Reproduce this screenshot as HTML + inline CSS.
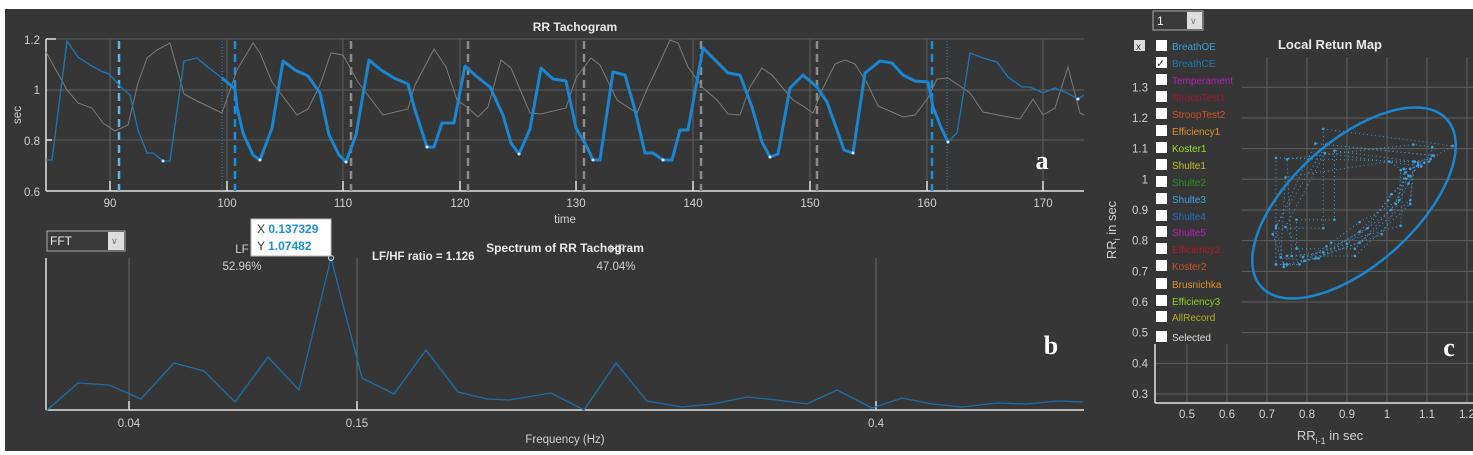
<!DOCTYPE html>
<html><head><meta charset="utf-8"><style>
html,body{margin:0;padding:0;background:#fff;}
svg{display:block;font-family:"Liberation Sans",Arial,sans-serif;}
</style></head><body>
<svg id="s" width="1473" height="455" viewBox="0 0 1473 455" xmlns="http://www.w3.org/2000/svg">
<rect x="5" y="9" width="1468" height="442" fill="#363636"/>
<!-- ===== Tachogram ===== -->
<g stroke="#5e5e5e" stroke-width="1">
<line x1="46" y1="39" x2="1084" y2="39"/><line x1="46" y1="90" x2="1084" y2="90"/><line x1="46" y1="140" x2="1084" y2="140"/>
<line x1="110" y1="39" x2="110" y2="191"/><line x1="227" y1="39" x2="227" y2="191"/><line x1="343" y1="39" x2="343" y2="191"/>
<line x1="460" y1="39" x2="460" y2="191"/><line x1="576" y1="39" x2="576" y2="191"/><line x1="693" y1="39" x2="693" y2="191"/>
<line x1="810" y1="39" x2="810" y2="191"/><line x1="927" y1="39" x2="927" y2="191"/><line x1="1043" y1="39" x2="1043" y2="191"/>
</g>
<g stroke="#e0e0e0" stroke-width="1.5">
<line x1="46" y1="191" x2="1084" y2="191"/><line x1="46" y1="39" x2="46" y2="191"/>
<line x1="46" y1="39" x2="56" y2="39"/><line x1="46" y1="140" x2="52" y2="140"/>
<line x1="110" y1="181" x2="110" y2="191"/><line x1="227" y1="181" x2="227" y2="191"/><line x1="343" y1="181" x2="343" y2="191"/>
<line x1="460" y1="181" x2="460" y2="191"/><line x1="576" y1="181" x2="576" y2="191"/><line x1="693" y1="181" x2="693" y2="191"/>
<line x1="810" y1="181" x2="810" y2="191"/><line x1="927" y1="181" x2="927" y2="191"/><line x1="1043" y1="181" x2="1043" y2="191"/>
</g>
<g stroke-dasharray="8,5" stroke-width="2.5">
<line x1="119" y1="41" x2="119" y2="191" stroke="#56b8e8"/>
<line x1="235" y1="41" x2="235" y2="191" stroke="#1a8fd8"/>
<line x1="351" y1="41" x2="351" y2="191" stroke="#8a8a8a"/>
<line x1="468" y1="41" x2="468" y2="191" stroke="#8a8a8a"/>
<line x1="584" y1="41" x2="584" y2="191" stroke="#8a8a8a"/>
<line x1="701" y1="41" x2="701" y2="191" stroke="#8a8a8a"/>
<line x1="817" y1="41" x2="817" y2="191" stroke="#8a8a8a"/>
<line x1="932" y1="41" x2="932" y2="191" stroke="#1a8fd8"/>
</g>
<g stroke="#1a8fd8" stroke-dasharray="1,2" stroke-width="1">
<line x1="222" y1="41" x2="222" y2="191"/><line x1="947" y1="41" x2="947" y2="191"/>
</g>
<polyline fill="none" stroke="#7a7a7a" stroke-width="1" points="46,52 67,90 78,103 92,108 103,123 115,131 128,125 138,83 147,58 157,50 170,43 184,94 197,101 222,113 237,70 253,43 260,53 272,82 297,115 308,109 320,85 331,53 343,55 358,82 383,115 408,109 415,85 434,49 446,67 457,100 467,107 478,117 488,107 501,60 511,68 530,113 541,114 566,108 576,78 591,58 600,65 617,100 637,113 648,87 660,62 670,40 678,43 688,67 703,88 717,100 728,114 740,115 750,87 762,68 772,75 782,87 793,100 803,106 813,113 822,90 835,64 845,60 855,64 867,83 878,106 892,112 903,117 915,115 928,98 937,79 948,78 970,93 983,112 998,115 1020,119 1033,99 1043,115 1055,108 1068,67 1080,113 1084,115"/>
<polyline fill="none" stroke="#1c78b8" stroke-width="1.3" points="46,160 52,160 67,41 78,57 90,65 101,71 109,74 121,87 130,95 138,130 147,153 153,153 163,161 170,161 184,61 197,58 209,68 222,78 235,89"/>
<polyline fill="none" stroke="#1c78b8" stroke-width="1.3" points="948,142 957,133 970,53 983,58 997,62 1008,77 1022,87 1030,87 1043,93 1055,88 1067,93 1078,99 1084,95"/>
<polyline id="thick" fill="none" stroke="#1a86d0" stroke-width="3" stroke-linejoin="round" points="222,78 235,89 237,107 243,133 253,155 260,160 272,128 283,61 295,70 308,76 320,93 329,135 339,155 346,162 356,135 369,60 381,70 394,78 408,84 415,110 427,147 434,147 442,123 454,123 465,66 476,76 490,87 503,115 511,143 519,154 530,129 541,68 553,79 566,81 576,128 586,145 593,160 600,160 613,72 625,75 635,110 645,153 653,153 663,160 672,160 680,130 688,130 703,48 717,62 728,73 740,75 752,107 762,142 770,157 778,154 790,88 803,75 817,87 827,102 837,130 844,150 853,153 865,73 880,61 892,63 903,75 915,81 928,82 933,107 940,125 948,142"/>
<g fill="#cfe8ff"><circle cx="163" cy="161" r="1.5"/><circle cx="260" cy="160" r="1.5"/><circle cx="346" cy="162" r="1.5"/><circle cx="427" cy="147" r="1.5"/><circle cx="519" cy="154" r="1.5"/><circle cx="593" cy="160" r="1.5"/><circle cx="663" cy="160" r="1.5"/><circle cx="770" cy="157" r="1.5"/><circle cx="853" cy="153" r="1.5"/><circle cx="948" cy="142" r="1.5"/><circle cx="1078" cy="99" r="1.5"/></g>
<g fill="#d0d0d0" font-size="11.5">
<text x="40" y="44" text-anchor="end">1.2</text><text x="40" y="94" text-anchor="end">1</text><text x="40" y="145" text-anchor="end">0.8</text><text x="40" y="196" text-anchor="end">0.6</text>
<text x="110" y="207" text-anchor="middle">90</text><text x="227" y="207" text-anchor="middle">100</text><text x="343" y="207" text-anchor="middle">110</text><text x="460" y="207" text-anchor="middle">120</text><text x="576" y="207" text-anchor="middle">130</text><text x="693" y="207" text-anchor="middle">140</text><text x="810" y="207" text-anchor="middle">150</text><text x="927" y="207" text-anchor="middle">160</text><text x="1043" y="207" text-anchor="middle">170</text>
<text x="565" y="223" text-anchor="middle">time</text>
<text transform="translate(21,115) rotate(-90)" text-anchor="middle">sec</text>
</g>
<text x="575" y="31" fill="#e8e8e8" font-size="12" font-weight="bold" text-anchor="middle">RR Tachogram</text>
<text x="1042" y="169" fill="#fff" font-size="26" font-weight="bold" font-family="Liberation Serif,serif" text-anchor="middle">a</text>
<!-- ===== Spectrum ===== -->
<g stroke="#6a6a6a" stroke-width="1"><line x1="129" y1="258" x2="129" y2="410"/><line x1="357" y1="258" x2="357" y2="410"/><line x1="876" y1="258" x2="876" y2="410"/></g>
<g stroke="#e0e0e0" stroke-width="1.5"><line x1="46" y1="410" x2="1084" y2="410"/><line x1="46" y1="258" x2="46" y2="410"/>
<line x1="129" y1="401" x2="129" y2="410"/><line x1="357" y1="401" x2="357" y2="410"/><line x1="876" y1="401" x2="876" y2="410"/></g>
<polyline fill="none" stroke="#1c6ea8" stroke-width="1.3" points="46,411 78,383 109,385 141,399 174,363 204,371 235,402 268,357 299,390 331,258 362,378 394,394 426,350 458,392 487,399 509,400 551,393 584,410 616,363 647,401 682,407 713,404 747,397 777,400 807,404 837,390 872,408 902,398 932,404 962,407 997,403 1027,404 1058,401 1083,402"/>
<circle cx="331" cy="258" r="2.5" fill="none" stroke="#ddd" stroke-width="1"/>
<g fill="#d0d0d0" font-size="11.5">
<text x="129" y="427" text-anchor="middle">0.04</text><text x="357" y="427" text-anchor="middle">0.15</text><text x="876" y="427" text-anchor="middle">0.4</text>
<text x="565" y="443" text-anchor="middle">Frequency (Hz)</text>
<text x="242" y="253" text-anchor="middle">LF</text><text x="242" y="270" text-anchor="middle">52.96%</text>
<text x="617" y="253" text-anchor="middle">HF</text><text x="616" y="270" text-anchor="middle">47.04%</text>
</g>
<text x="372" y="260" fill="#e8e8e8" font-size="11.5" font-weight="bold">LF/HF ratio = 1.126</text>
<text x="565" y="252" fill="#e8e8e8" font-size="12" font-weight="bold" text-anchor="middle">Spectrum of RR Tachogram</text>
<rect x="251" y="219" width="80" height="37" fill="#fff" stroke="#bbb"/>
<text x="257" y="233" font-size="12" fill="#333">X <tspan fill="#1a8fe0" font-weight="bold">0.137329</tspan></text>
<text x="257" y="250" font-size="12" fill="#333">Y <tspan fill="#1a8fe0" font-weight="bold">1.07482</tspan></text>
<rect x="47" y="231" width="78" height="20" fill="#3a3a3a" stroke="#aaa"/>
<rect x="108" y="232" width="16" height="18" fill="#ddd"/>
<text x="50" y="245" fill="#eee" font-size="12">FFT</text><text x="111" y="244" fill="#777" font-size="9">∨</text>
<text x="1051" y="354" fill="#fff" font-size="26" font-weight="bold" font-family="Liberation Serif,serif" text-anchor="middle">b</text>
<!-- ===== Return map ===== -->
<g id="rgrid" stroke="#5e5e5e" stroke-width="1"></g>
<g stroke="#e0e0e0" stroke-width="1.5"><line x1="1155" y1="403" x2="1473" y2="403"/><line x1="1155" y1="60" x2="1155" y2="403"/></g>
<rect x="1150" y="38" width="92" height="306" fill="#363636"/>
<g id="scat"></g>
<ellipse cx="1354" cy="203" rx="125" ry="62" transform="rotate(-42 1354 203)" fill="none" stroke="#1a86d0" stroke-width="2.5"/>
<g id="rlab" fill="#d0d0d0" font-size="11.5"></g>
<text x="1330" y="49" fill="#e8e8e8" font-size="13" font-weight="bold" text-anchor="middle">Local Retun Map</text>
<text x="1330" y="440" fill="#d0d0d0" font-size="13" text-anchor="middle">RR<tspan font-size="9" dy="4">i-1</tspan><tspan dy="-4"> in sec</tspan></text>
<text transform="translate(1116,230) rotate(-90)" fill="#d0d0d0" font-size="13" text-anchor="middle">RR<tspan font-size="9" dy="4">i</tspan><tspan dy="-4"> in sec</tspan></text>
<rect x="1153" y="11" width="50" height="19" fill="#3a3a3a" stroke="#aaa"/><rect x="1187" y="12" width="15" height="17" fill="#ddd"/>
<text x="1157" y="25" fill="#eee" font-size="12">1</text><text x="1190" y="24" fill="#777" font-size="9">∨</text>
<rect x="1134" y="40" width="11" height="11" fill="#ddd"/><text x="1136" y="50" font-size="10" fill="#333">x</text>
<g id="leg" font-size="10"></g>
<text x="1449" y="356" fill="#fff" font-size="26" font-weight="bold" font-family="Liberation Serif,serif" text-anchor="middle">c</text>
</svg>
<script>
var NS="http://www.w3.org/2000/svg";
function el(p,t,a,txt){var e=document.createElementNS(NS,t);for(var k in a)e.setAttribute(k,a[k]);if(txt)e.textContent=txt;document.getElementById(p).appendChild(e);return e;}
function X(v){return 1187+(v-0.5)*400;} function Y(v){return 394-(v-0.3)*306.7;}
for(var v=0.5;v<1.25;v+=0.1){el("rgrid","line",{x1:X(v),y1:57,x2:X(v),y2:403});el("rlab","text",{x:X(v),y:418,"text-anchor":"middle"},(Math.round(v*10)/10).toString());}
for(var i=3;i<=13;i++){var w=i/10;el("rgrid","line",{x1:1155,y1:Y(w),x2:1473,y2:Y(w)});el("rlab","text",{x:1148,y:Y(w)+4,"text-anchor":"end"},w==1?"1":w.toString());}
var pts=document.getElementById("thick").getAttribute("points").trim().split(/\s+/).map(function(p){return 1.2-(parseFloat(p.split(",")[1])-39)*0.6/152;});
var d="";for(var j=1;j<pts.length;j++){var x=X(pts[j-1]),y=Y(pts[j]);d+=(j==1?"M":"L")+x.toFixed(1)+","+y.toFixed(1);el("scat","circle",{cx:x,cy:y,r:1.3,fill:"#3aa0e0"});}
el("scat","path",{d:d,fill:"none",stroke:"#3aa0e0","stroke-width":1,"stroke-dasharray":"1,3"});
var L=[["BreathOE","#3aa0d8",46],["BreathCE","#1f77b4",63],["Temperament","#b020b0",80],["StroopTest1","#a01830",97],["StroopTest2","#d05020",114],["Efficiency1","#e09030",131],["Koster1","#9be020",148],["Shulte1","#c0c020",165],["Shulte2","#209020",182],["Shulte3","#40a0e0",199],["Shulte4","#2070c0",216],["Shulte5","#b020b0",232],["Efficiency2","#b01830",249],["Koster2","#d05020",266],["Brusnichka","#e09020",284],["Efficiency3","#90d020",301],["AllRecord","#b0b020",317],["Selected","#dddddd",337]];
L.forEach(function(r){el("leg","rect",{x:1156,y:r[2]-6,width:11,height:11,fill:"#fff"});el("leg","text",{x:1172,y:r[2]+4,fill:r[1]},r[0]);});
el("leg","text",{x:1156,y:67,fill:"#333","font-size":"11"},"✓");
</script>
</body></html>
